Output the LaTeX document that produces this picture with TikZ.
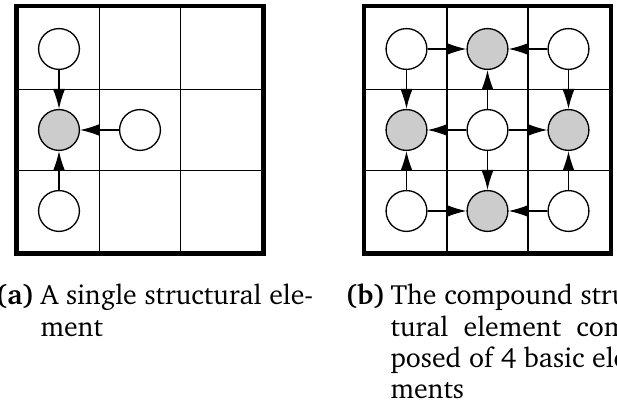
\documentclass[tikz,border=0pt]{standalone}
\usepackage[T1]{fontenc}
\usepackage{charter}
\usepackage{calc}
\usepackage{tikz}
\usetikzlibrary{arrows.meta}

\begin{document}
\begin{tikzpicture}[
			cell/.style={circle, draw=black, fill=white, minimum size=0.49cm, inner sep=0pt, line width=0.45pt},
			seed/.style={cell, fill=gray!40},
			link/.style={-{Latex[length=6.8pt,width=4.2pt]}, line width=0.45pt},
			capt/.style={anchor=base west, inner sep=0pt, font=\fontsize{9.5}{10.6}\selectfont}
		]
		\useasboundingbox (0,0) rectangle (7.404,4.848);

		% left panel: one element
		\draw[line width=0.5pt] (1.194,1.830) -- (1.194,4.746);
		\draw[line width=0.5pt] (2.166,1.830) -- (2.166,4.746);
		\draw[line width=0.5pt] (0.222,3.774) -- (3.138,3.774);
		\draw[line width=0.5pt] (0.222,2.802) -- (3.138,2.802);
		\draw[line width=0.054cm] (0.195,1.803) rectangle (3.165,4.773);

		\node[cell] (atop) at (0.708,4.260) {};
		\node[seed] (amid) at (0.708,3.288) {};
		\node[cell] (aright) at (1.680,3.288) {};
		\node[cell] (abot) at (0.708,2.316) {};

		\draw[link] (atop) -- (amid);
		\draw[link] (aright) -- (amid);
		\draw[link] (abot) -- (amid);

		% right panel: four elements sharing corners
		\draw[line width=0.5pt] (5.364,1.830) -- (5.364,4.746);
		\draw[line width=0.5pt] (6.336,1.830) -- (6.336,4.746);
		\draw[line width=0.5pt] (4.392,3.774) -- (7.308,3.774);
		\draw[line width=0.5pt] (4.392,2.802) -- (7.308,2.802);
		\draw[line width=0.054cm] (4.365,1.803) rectangle (7.335,4.773);

		\node[cell] (btl) at (4.878,4.260) {};
		\node[seed] (bt) at (5.850,4.260) {};
		\node[cell] (btr) at (6.822,4.260) {};
		\node[seed] (bl) at (4.878,3.288) {};
		\node[cell] (bc) at (5.850,3.288) {};
		\node[seed] (br) at (6.822,3.288) {};
		\node[cell] (bbl) at (4.878,2.316) {};
		\node[seed] (bb) at (5.850,2.316) {};
		\node[cell] (bbr) at (6.822,2.316) {};

		\draw[link] (btl) -- (bt);
		\draw[link] (btr) -- (bt);
		\draw[link] (btl) -- (bl);
		\draw[link] (btr) -- (br);
		\draw[link] (bc) -- (bt);
		\draw[link] (bc) -- (bl);
		\draw[link] (bc) -- (br);
		\draw[link] (bc) -- (bb);
		\draw[link] (bbl) -- (bl);
		\draw[link] (bbr) -- (br);
		\draw[link] (bbl) -- (bb);
		\draw[link] (bbr) -- (bb);

		% captions, hanging after the tag
		\node[capt] (capa) at (-0.06,1.188) {\begin{tabular}[t]{@{}l@{}l@{}}
				\makebox[0.54cm][l]{\textbf{(a)}} & A single structural ele-\\
				 & ment
			\end{tabular}};
		\node[capt] (capb) at (4.14,1.188) {\begin{tabular}[t]{@{}l@{}l@{}}
				\makebox[0.54cm][l]{\textbf{(b)}} & The compound struc-\\
				 & \makebox[\widthof{posed of 4 basic ele-}][s]{tural element com-}\\
				 & posed of 4 basic ele-\\
				 & ments
			\end{tabular}};
	\end{tikzpicture}
\end{document}
